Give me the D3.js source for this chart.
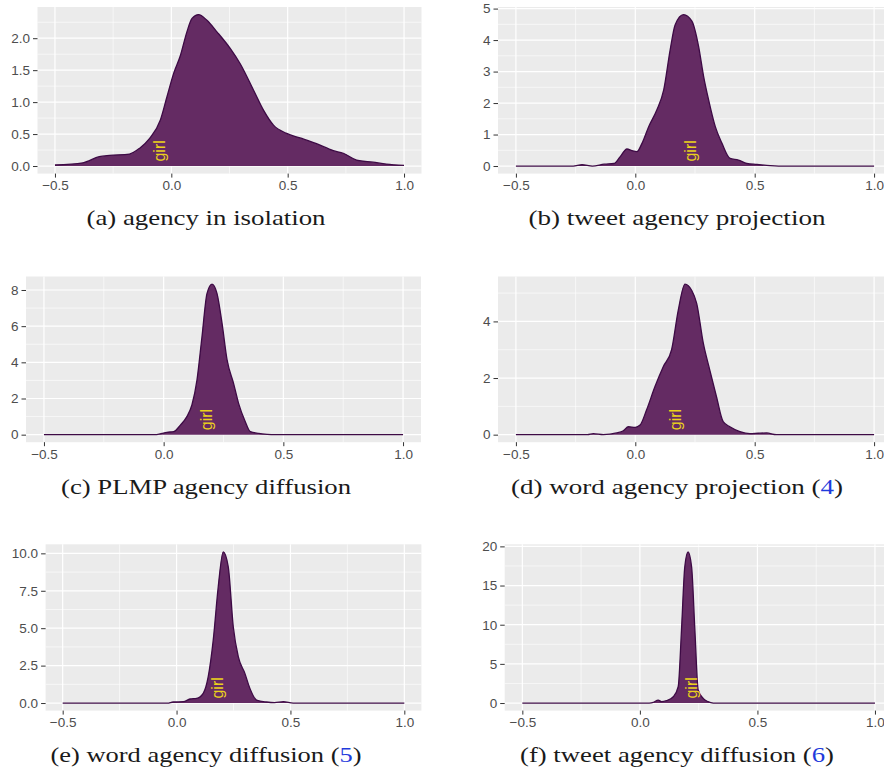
<!DOCTYPE html>
<html>
<head>
<meta charset="utf-8">
<script src="https://cdn.jsdelivr.net/npm/d3@7"></script>
<style>
body{margin:0;background:#fff;}
</style>
</head>
<body>
<div id="viz-container"></div>
<script>
// every panel shares the same agency axis
let xTicks = [-0.5, 0, 0.5, 1];

let densityA = [[-0.5,0.016],[-0.38,0.05],[-0.31,0.146],[-0.265,0.166],[-0.18,0.187],[-0.137,0.276],[-0.094,0.43],[-0.047,0.72],[-0.019,1.08],[0.01,1.45],[0.039,1.73],[0.067,2.10],[0.089,2.31],[0.117,2.37],[0.153,2.28],[0.196,2.10],[0.253,1.84],[0.296,1.6],[0.353,1.19],[0.396,0.875],[0.439,0.64],[0.496,0.51],[0.553,0.44],[0.624,0.35],[0.696,0.24],[0.739,0.2],[0.796,0.094],[0.867,0.06],[0.924,0.03],[1.0,0.01]];
let densityB = [[-0.5,0],[-0.26,0],[-0.223,0.04],[-0.18,0.0],[-0.13,0.06],[-0.09,0.08],[-0.063,0.3],[-0.035,0.54],[-0.014,0.49],[0.007,0.46],[0.028,0.72],[0.056,1.25],[0.09,1.78],[0.119,2.42],[0.146,3.69],[0.167,4.49],[0.202,4.81],[0.237,4.6],[0.265,3.8],[0.286,2.85],[0.307,2.1],[0.335,1.25],[0.363,0.72],[0.397,0.24],[0.432,0.19],[0.467,0.08],[0.51,0.05],[0.565,0.01],[0.6,0],[1.0,0]];
let densityC = [[-0.5,0],[-0.03,0],[-0.007,0.07],[0.014,0.13],[0.042,0.17],[0.07,0.53],[0.097,1.0],[0.118,1.64],[0.139,3.0],[0.16,5.4],[0.181,7.8],[0.202,8.33],[0.223,7.8],[0.244,6.15],[0.265,4.13],[0.292,2.84],[0.313,1.73],[0.341,0.72],[0.362,0.17],[0.397,0.07],[0.432,0.02],[0.46,0],[1.0,0]];
let densityD = [[-0.5,0],[-0.2,0],[-0.176,0.035],[-0.134,0],[-0.078,0.06],[-0.05,0.14],[-0.029,0.28],[0,0.26],[0.02,0.34],[0.047,0.87],[0.082,1.69],[0.117,2.4],[0.152,3.0],[0.18,4.4],[0.208,5.32],[0.236,5.1],[0.257,4.64],[0.285,3.22],[0.312,2.28],[0.34,1.34],[0.368,0.46],[0.396,0.28],[0.438,0.11],[0.48,0.035],[0.515,0.05],[0.55,0.06],[0.59,0],[1.0,0]];
let densityE = [[-0.5,0],[-0.04,0],[-0.015,0.07],[0.03,0.09],[0.059,0.27],[0.088,0.31],[0.117,0.65],[0.139,1.76],[0.161,4.2],[0.183,7.77],[0.205,10.1],[0.227,9.1],[0.249,5.1],[0.271,3.1],[0.3,1.98],[0.322,0.98],[0.351,0.2],[0.395,0.07],[0.43,0.03],[0.469,0.09],[0.512,0],[1.0,0]];
let densityF = [[-0.5,0],[0.04,0],[0.057,0.08],[0.078,0.38],[0.092,0.17],[0.113,0.3],[0.142,0.8],[0.163,2.08],[0.177,9.3],[0.191,17.4],[0.205,19.3],[0.22,17.4],[0.234,9.3],[0.248,1.66],[0.269,0.6],[0.29,0.17],[0.312,0],[1.0,0]];

// y tick labels of each panel
let yTicksA = [0, 0.5, 1, 1.5, 2];
let yTicksB = [0, 1, 2, 3, 4, 5];
let yTicksC = [0, 2, 4, 6, 8];
let yTicksD = [0, 2, 4];
let yTicksE = [0, 2.5, 5, 7.5, 10];
let yTicksF = [0, 5, 10, 15, 20];

// where the word "girl" sits on each axis
let girlX = [-0.049, 0.23, 0.178, 0.168, 0.181, 0.22];

let captions = ["(a) agency in isolation", "(b) tweet agency projection", "(c) PLMP agency diffusion",
  "(d) word agency projection (", "(e) word agency diffusion (", "(f) tweet agency diffusion ("];
let captionRefs = ["", "", "", "4", "5", "6"];

let curves = [densityA, densityB, densityC, densityD, densityE, densityF];
let yTickSets = [yTicksA, yTicksB, yTicksC, yTicksD, yTicksE, yTicksF];

// panel boxes (pixels)
let layout = [
  {left:37.5, right:421.5, top:7,     bottom:173.6, capX:206, capY:225, capW:239},
  {left:498,  right:892,   top:7,     bottom:173.6, capX:677, capY:225, capW:297},
  {left:26,   right:421,   top:276.5, bottom:442.2, capX:206, capY:494, capW:290},
  {left:498,  right:892,   top:276.5, bottom:442.2, capX:677, capY:494, capW:332},
  {left:45.6, right:421.4, top:544.3, bottom:710.6, capX:206, capY:762, capW:311},
  {left:504.7,right:892.6, top:544.3, bottom:710.6, capX:677, capY:762, capW:314}
];

//create canvas
let viz = d3.select("#viz-container")
    .append("svg")
    .attr("width",884)
    .attr("height",776)
;

function minorOf(ticks, domain){
  let step = ticks[1]-ticks[0];
  let out = ticks.slice(0,-1).map(t => t+step/2);
  if(ticks[0]-step/2 >= domain[0]) out.unshift(ticks[0]-step/2);
  if(ticks[ticks.length-1]+step/2 <= domain[1]) out.push(ticks[ticks.length-1]+step/2);
  return out;
}

curves.forEach(function(data, i){
  let box = layout[i];
  let yTicks = yTickSets[i];
  let xExt = d3.extent(xTicks);
  let xPad = (xExt[1]-xExt[0])*0.05;
  let ymax = d3.max(data, d => d[1]);

  let x = d3.scaleLinear().domain([xExt[0]-xPad, xExt[1]+xPad]).range([box.left, box.right]);
  let y = d3.scaleLinear().domain([-0.05*ymax, 1.05*ymax]).range([box.bottom, box.top]);

  let g = viz.append("g").attr("class","panel");

  g.append("rect")
    .attr("x",box.left).attr("y",box.top)
    .attr("width",box.right-box.left).attr("height",box.bottom-box.top)
    .attr("fill","#EBEBEB");

  // minor grid
  minorOf(xTicks, x.domain()).forEach(function(v){
    g.append("line").attr("x1",x(v)).attr("x2",x(v)).attr("y1",box.top).attr("y2",box.bottom)
      .attr("stroke","#fff").attr("stroke-width",0.6);
  });
  minorOf(yTicks, y.domain()).forEach(function(v){
    g.append("line").attr("y1",y(v)).attr("y2",y(v)).attr("x1",box.left).attr("x2",box.right)
      .attr("stroke","#fff").attr("stroke-width",0.6);
  });
  // major grid
  xTicks.forEach(function(v){
    g.append("line").attr("x1",x(v)).attr("x2",x(v)).attr("y1",box.top).attr("y2",box.bottom)
      .attr("stroke","#fff").attr("stroke-width",1.2);
  });
  yTicks.forEach(function(v){
    g.append("line").attr("y1",y(v)).attr("y2",y(v)).attr("x1",box.left).attr("x2",box.right)
      .attr("stroke","#fff").attr("stroke-width",1.2);
  });

  // density
  let area = d3.area().x(d => x(d[0])).y0(y(0)).y1(d => y(d[1])).curve(d3.curveMonotoneX);
  let line = d3.line().x(d => x(d[0])).y(d => y(d[1])).curve(d3.curveMonotoneX);
  g.append("path").datum(data).attr("d",area).attr("fill","#642b63");
  g.append("path").datum(data).attr("d",line).attr("fill","none")
    .attr("stroke","#3d0a45").attr("stroke-width",1.3);

  // word label
  g.append("text")
    .attr("transform","translate("+x(girlX[i])+","+(y(0)-4.5)+") rotate(-90)")
    .attr("dominant-baseline","central")
    .attr("font-family","Liberation Sans, Arial, sans-serif")
    .attr("font-size",16)
    .attr("fill","#EBD21B")
    .text("girl");

  // axes
  let step = yTicks[1]-yTicks[0];
  let yAxis = d3.axisLeft(y).tickValues(yTicks).tickSize(4.5).tickPadding(3)
    .tickFormat(d3.format(Number.isInteger(step) ? "d" : ".1f"));
  let xAxis = d3.axisBottom(x).tickValues(xTicks).tickSize(4).tickPadding(3)
    .tickFormat(d3.format(".1f"));

  let ya = g.append("g").attr("transform","translate("+box.left+",0)").call(yAxis);
  let xa = g.append("g").attr("transform","translate(0,"+box.bottom+")").call(xAxis);
  [ya, xa].forEach(function(a){
    a.select(".domain").remove();
    a.selectAll("line").attr("stroke","#333").attr("stroke-width",1);
    a.selectAll("text").attr("fill","#4D4D4D").attr("font-size",13.5)
      .attr("font-family","Liberation Sans, Arial, sans-serif");
  });

  // caption
  let cap = viz.append("text")
    .attr("x",box.capX).attr("y",box.capY)
    .attr("text-anchor","middle")
    .attr("font-family","Liberation Serif, serif")
    .attr("font-size",22)
    .attr("fill","#1a1a1a")
    .attr("textLength",box.capW)
    .attr("lengthAdjust","spacingAndGlyphs");
  cap.append("tspan").text(captions[i]);
  if(captionRefs[i]!=""){
    cap.append("tspan").attr("fill","#1f3bdc").text(captionRefs[i]);
    cap.append("tspan").text(")");
  }
});
</script>
</body>
</html>
